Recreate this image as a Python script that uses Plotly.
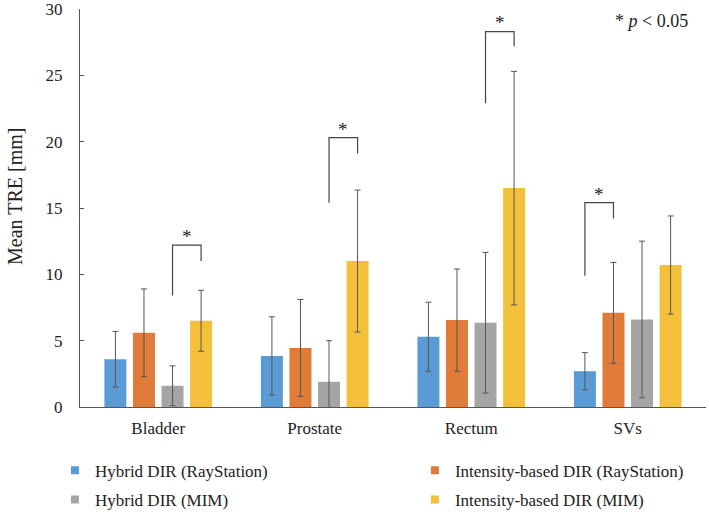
import plotly.graph_objects as go

categories = ["Bladder", "Prostate", "Rectum", "SVs"]
series_names = [
    "Hybrid DIR (RayStation)",
    "Intensity-based DIR (RayStation)",
    "Hybrid DIR (MIM)",
    "Intensity-based DIR (MIM)",
]
colors = ["#5b9bd5", "#e07b39", "#a5a5a5", "#f4c03c"]

hybrid_ray = [3.6, 3.85, 5.3, 2.7]
intensity_ray = [5.6, 4.45, 6.55, 7.1]
hybrid_mim = [1.6, 1.9, 6.35, 6.6]
intensity_mim = [6.5, 11.0, 16.5, 10.7]

hybrid_ray_sd = [2.1, 2.95, 2.6, 1.4]
intensity_ray_sd = [3.3, 3.65, 3.85, 3.8]
hybrid_mim_sd = [1.5, 3.1, 5.3, 5.9]
intensity_mim_sd = [2.3, 5.35, 8.8, 3.7]

means = [hybrid_ray, intensity_ray, hybrid_mim, intensity_mim]
sds = [hybrid_ray_sd, intensity_ray_sd, hybrid_mim_sd, intensity_mim_sd]

# significance brackets: category, left series, right series, levels
sig_category = [0, 1, 2, 3]
sig_left = [2, 2, 2, 0]
sig_right = [3, 3, 3, 1]
sig_top = [12.2, 20.3, 28.3, 15.4]
sig_left_bottom = [8.4, 15.4, 22.9, 9.9]
sig_right_bottom = [11.0, 19.1, 27.2, 14.2]

# legend: which legend box each series goes into (two columns)
legend_column = ["legend", "legend2", "legend", "legend2"]

FONT = "Liberation Serif"
TXT = "#222222"
BARGAP = 0.27
n_series = len(series_names)

fig = go.Figure()
for name, col, m, s in zip(series_names, colors, means, sds):
    fig.add_trace(go.Bar(
        x=categories, y=m, name=name, showlegend=False,
        marker=dict(color=col, line=dict(width=0)),
        error_y=dict(type="data", array=s, visible=True,
                     color="#555555", thickness=1, width=3),
    ))

# small square legend markers like the original
for i, (name, col, lg) in enumerate(zip(series_names, colors, legend_column)):
    fig.add_trace(go.Scatter(
        x=[None], y=[None], mode="markers", name=name, legend=lg,
        legendgroup=f"g{i}",
        marker=dict(symbol="square", size=8, color=col),
    ))


def slot_center(cat, idx):
    slot = (1 - BARGAP) / n_series
    return cat - (1 - BARGAP) / 2 + slot * (idx + 0.5)


line_style = dict(color="#444444", width=1.2)
for c, a, b, top, lb, rb in zip(sig_category, sig_left, sig_right,
                                sig_top, sig_left_bottom, sig_right_bottom):
    xa = slot_center(c, a)
    xb = slot_center(c, b)
    fig.add_shape(type="path", xref="x", yref="y",
                  path=f"M {xa} {lb} L {xa} {top} L {xb} {top} L {xb} {rb}",
                  line=line_style)
    fig.add_annotation(x=(xa + xb) / 2, y=top + 0.65, text="*", showarrow=False,
                       yanchor="middle", font=dict(family=FONT, size=19, color=TXT))

fig.add_annotation(xref="paper", yref="paper", x=0.974, y=0.97,
                   text="* <i>p</i> < 0.05", showarrow=False,
                   xanchor="right", yanchor="middle",
                   font=dict(family=FONT, size=18, color=TXT))

# y axis title (sits a bit above the middle in the original)
fig.add_annotation(xref="paper", yref="paper", x=-0.104, y=0.53,
                   text="Mean TRE [mm]", textangle=-90, showarrow=False,
                   xanchor="center", yanchor="middle",
                   font=dict(family=FONT, size=20, color=TXT))

legend_style = dict(orientation="v", yanchor="top", xanchor="left",
                    tracegroupgap=4, itemwidth=30, bgcolor="rgba(0,0,0,0)",
                    font=dict(family=FONT, size=17, color=TXT))

fig.update_layout(
    width=709, height=517,
    margin=dict(l=80, r=3, t=9, b=110, autoexpand=False),
    paper_bgcolor="white", plot_bgcolor="white",
    barmode="group", bargap=BARGAP, bargroupgap=0.23,
    font=dict(family=FONT, size=17, color=TXT),
    showlegend=True,
    legend=dict(x=-0.04, y=-0.115, **legend_style),
    legend2=dict(x=0.535, y=-0.115, **legend_style),
)
fig.update_xaxes(showline=True, linecolor="#555555", linewidth=1,
                 ticks="", showgrid=False, ticklabelstandoff=6, automargin=False,
                 tickfont=dict(family=FONT, size=17, color=TXT))
fig.update_yaxes(range=[0, 30], dtick=5, showline=True, linecolor="#555555",
                 linewidth=1, ticks="inside", ticklen=4, tickcolor="#555555",
                 showgrid=False, zeroline=False, ticklabelstandoff=13,
                 ticklabeloverflow="allow", automargin=False,
                 tickfont=dict(family=FONT, size=17, color=TXT))

# drop the default body margin so the figure fills the window exactly
fig.write_html("out.html", config={"displayModeBar": False},
               post_script="document.body.style.margin='0px';")
